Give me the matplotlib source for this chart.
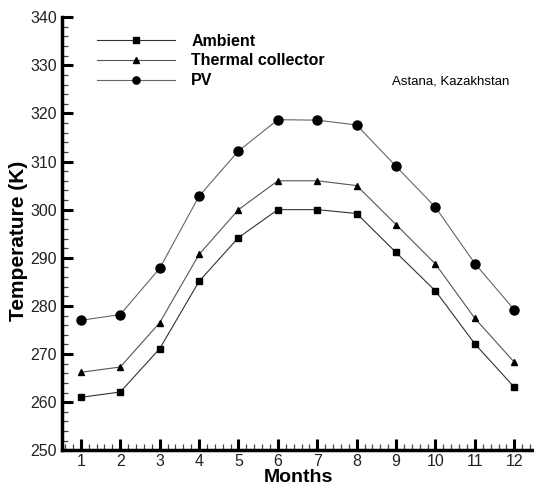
import matplotlib
matplotlib.use('Agg')
from matplotlib import pyplot as plt
from matplotlib.ticker import MultipleLocator

plt.rcParams['font.family'] = ['Liberation Sans', 'DejaVu Sans']

months = [1, 2, 3, 4, 5, 6, 7, 8, 9, 10, 11, 12]
ambient = [261.0, 262.1, 271.1, 285.1, 294.2, 300.0, 300.0, 299.2, 291.1, 283.1, 272.1, 263.1]
thermal = [266.2, 267.3, 276.5, 290.7, 300.0, 306.0, 306.0, 305.0, 296.9, 288.7, 277.4, 268.3]
pv = [277.0, 278.2, 287.8, 302.8, 312.2, 318.7, 318.6, 317.6, 309.0, 300.5, 288.8, 279.2]

fig = plt.figure(figsize=(5.34, 4.91), dpi=100)
ax = fig.add_axes([0.116, 0.083, 0.884, 0.882])

ax.plot(months, ambient, '-', color='#333333', lw=0.8, marker='s', ms=5,
        mfc='black', mec='black', label='Ambient')
ax.plot(months, thermal, '-', color='#555555', lw=0.8, marker='^', ms=5,
        mfc='black', mec='black', label='Thermal collector')
ax.plot(months, pv, '-', color='#666666', lw=0.8, marker='o', ms=6.5,
        mfc='black', mec='black', label='PV')

ax.set_xlim(0.52, 12.5)
ax.set_ylim(250, 340)
ax.xaxis.set_major_locator(MultipleLocator(1))
ax.xaxis.set_minor_locator(MultipleLocator(0.2))
ax.yaxis.set_major_locator(MultipleLocator(10))
ax.yaxis.set_minor_locator(MultipleLocator(2))

for s in ['top', 'right']:
    ax.spines[s].set_visible(False)
for s in ['left', 'bottom']:
    ax.spines[s].set_linewidth(2.5)
ax.tick_params(which='major', direction='in', length=8, width=2.2,
               labelsize=11.5, labelcolor='#222222')
ax.tick_params(which='minor', direction='in', length=4.5, width=0.9, color='#444444')
ax.tick_params(axis='x', pad=3)

ax.set_xlabel('Months', fontsize=14, fontweight='bold')
ax.xaxis.set_label_coords(0.5, -0.043, transform=ax.transAxes)
ax.xaxis.label.set_va('top')
ax.set_ylabel('Temperature (K)', fontsize=15, fontweight='bold')
ax.yaxis.set_label_coords(-0.093, 0.483)
ax.yaxis.label.set_va('center')

leg = ax.legend(loc='upper left', bbox_to_anchor=(0.074, 0.962), frameon=False,
                borderpad=0, borderaxespad=0, markerscale=0.8,
                handlelength=4.9, handletextpad=1.0, labelspacing=0.3,
                prop={'weight': 'bold', 'size': 11.5})

ax.text(0.70, 0.845, 'Astana, Kazakhstan', transform=ax.transAxes,
        fontsize=9.5, va='baseline')

plt.savefig('out.png', dpi=100)
